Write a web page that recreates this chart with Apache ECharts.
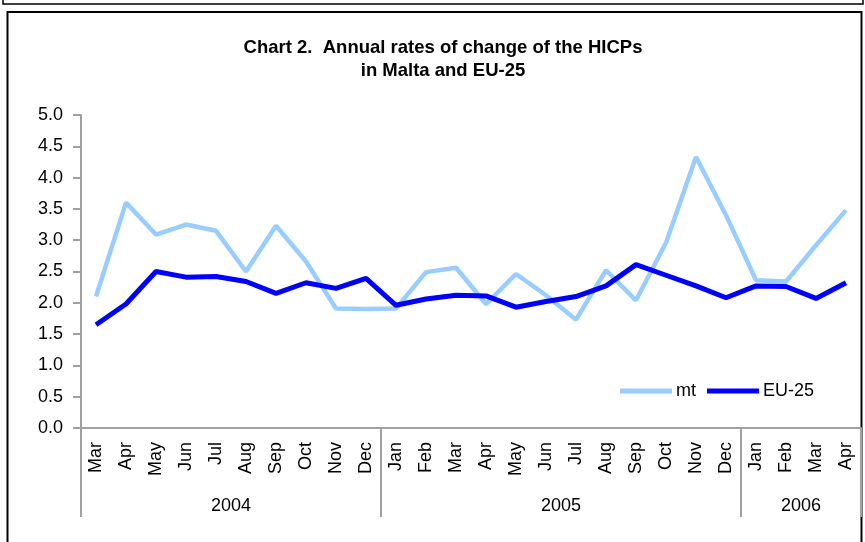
<!DOCTYPE html>
<html><head><meta charset="utf-8">
<script src="https://cdn.jsdelivr.net/npm/echarts@6/dist/echarts.min.js"></script>
<style>html,body{margin:0;padding:0;background:#fff}#c{width:865px;height:542px}</style>
</head><body><div id="c"></div>
<script>
const months = ['Mar','Apr','May','Jun','Jul','Aug','Sep','Oct','Nov','Dec',
  'Jan','Feb','Mar','Apr','May','Jun','Jul','Aug','Sep','Oct','Nov','Dec',
  'Jan','Feb','Mar','Apr'];
const years = ['2004','2005','2006'];
const yearCounts = [10, 12, 4];
const mt = [2.1,3.6,3.09,3.25,3.15,2.5,3.23,2.66,1.91,1.9,
  1.91,2.49,2.56,1.98,2.46,2.12,1.73,2.52,2.04,2.96,4.33,3.4,
  2.36,2.34,2.92,3.48];
const eu25 = [1.65,1.98,2.5,2.41,2.42,2.34,2.15,2.32,2.23,2.39,
  1.96,2.06,2.12,2.11,1.93,2.02,2.1,2.27,2.61,2.44,2.27,2.08,
  2.27,2.26,2.07,2.32];
const yTicks = [0,0.5,1,1.5,2,2.5,3,3.5,4,4.5,5];

const bounds = [0]; const mids = [];
yearCounts.forEach((n,i)=>{ mids.push(bounds[i] + n/2); bounds.push(bounds[i] + n); });

const FONT = 'Liberation Sans, Arial, sans-serif';
const grey = '#a0a0a0';
const chart = echarts.init(document.getElementById('c'));
chart.setOption({
  animation: false,
  backgroundColor: '#fff',
  title: {
    text: 'Chart 2.  Annual rates of change of the HICPs\nin Malta and EU-25',
    left: 438, top: 31, textAlign: 'center',
    textStyle: { fontFamily: FONT, fontSize: 18.5, fontWeight: 'bold', color: '#000', lineHeight: 23 }
  },
  legend: {
    right: 46, top: 377, itemWidth: 52, itemHeight: 5, itemGap: 11,
    icon: 'rect',
    textStyle: { fontFamily: FONT, fontSize: 18, color: '#000', padding: [0,0,0,-1] },
    data: ['mt','EU-25']
  },
  graphic: [
    { type: 'rect', shape: { x: 3, y: -20, width: 860, height: 24 }, style: { fill: 'none', stroke: '#000', lineWidth: 1.5 } },
    { type: 'rect', shape: { x: 7.5, y: 12, width: 854, height: 560 }, style: { fill: 'none', stroke: '#000', lineWidth: 2 } }
  ],
  grid: { left: 81, right: 4, top: 115, bottom: 114 },
  xAxis: [
    {
      type: 'category', data: months, boundaryGap: true,
      axisLine: { lineStyle: { color: grey, width: 2 } },
      axisTick: { interval: 0, length: 50, lineStyle: { color: grey, width: 2 } },
      axisLabel: { interval: 0, rotate: 90, margin: 14, fontFamily: FONT, fontSize: 18, color: '#000' }
    },
    {
      type: 'value', position: 'bottom', min: 0, max: bounds[bounds.length-1],
      axisLine: { show: false },
      splitLine: { show: false },
      axisTick: { show: true, customValues: bounds, length: 89, lineStyle: { color: grey, width: 2 } },
      axisLabel: { customValues: mids, margin: 69, fontFamily: FONT, fontSize: 18, color: '#000',
        formatter: v => years[mids.indexOf(v)] }
    }
  ],
  yAxis: {
    type: 'value', min: 0, max: 5, interval: 0.5,
    axisLine: { show: true, lineStyle: { color: grey, width: 2 } },
    axisTick: { show: true, length: 8, lineStyle: { color: grey, width: 2 } },
    splitLine: { show: false },
    axisLabel: { margin: 18, fontFamily: FONT, fontSize: 18, color: '#000',
      customValues: yTicks, formatter: v => v.toFixed(1) }
  },
  series: [
    { name: 'mt', type: 'line', data: mt, symbol: 'none', itemStyle: { color: '#99ccff' },
      lineStyle: { color: '#99ccff', width: 4.5 } },
    { name: 'EU-25', type: 'line', data: eu25, symbol: 'none', itemStyle: { color: '#0000ff' },
      lineStyle: { color: '#0000ff', width: 5 } }
  ]
});
</script></body></html>
